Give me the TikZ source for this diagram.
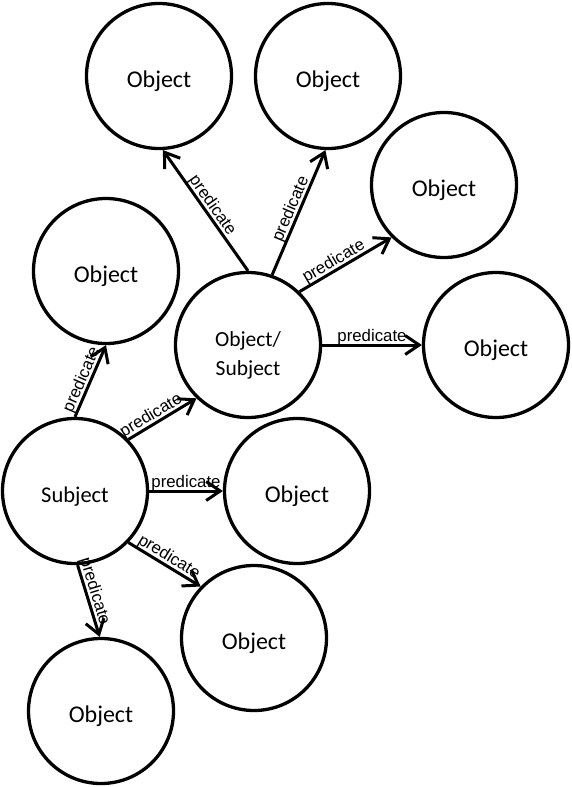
\documentclass[tikz,border=0pt]{standalone}
\usepackage{fontspec}
\setmainfont{Carlito}
\newfontfamily\labfont{Liberation Sans}
\usetikzlibrary{arrows.meta}
\begin{document}
\begin{tikzpicture}[x=1pt,y=-1pt,
  entbase/.style={circle,draw,line width=3.3pt,minimum size=145pt,inner sep=0pt,align=center},
  ent/.style={entbase,text height=22pt,text depth=0pt,font=\fontsize{24}{29}\selectfont},
  rel/.style={line width=3pt,-{Straight Barb[length=14pt,width=19pt]}},
  lab/.style={font=\labfont\fontsize{16.8}{18}\selectfont,sloped,above,inner sep=0.5pt,outer sep=0pt}]
\useasboundingbox (0,0) rectangle (571,787);
\node[ent] (tl) at (159,76) {Object};
\node[ent] (tr) at (328,76) {Object};
\node[ent] (ru) at (444,185) {Object};
\node[ent] (lo) at (106,271) {Object};
\node[entbase,font=\fontsize{21.5}{29}\selectfont] (os) at (248,345) {\rule{0pt}{36pt}Object/\\Subject};
\node[ent] (fr) at (496,345) {Object};
\node[ent,font=\fontsize{22.5}{29}\selectfont] (su) at (75,491) {Subject};
\node[ent] (mid) at (297,491) {Object};
\node[ent] (ol) at (254,638) {Object};
\node[ent] (ob) at (101,711) {Object};
\draw[rel] (os.90) -- node[lab,pos=0.5]{predicate} (tl.-87);
\draw[rel] (os.71) -- node[lab,pos=0.5]{predicate} (tr.-92);
\draw[rel] (os.46) -- node[lab,pos=0.42]{predicate} (ru.-135);
\draw[rel] (os.0) -- node[lab,pos=0.5]{predicate} (fr.180);
\draw[rel] (su.90) -- node[lab,pos=0.47]{predicate} (lo.-90);
\draw[rel] (su.44) -- node[lab,pos=0.4]{predicate} (os.-134);
\draw[rel] (su.0) -- node[lab,pos=0.5]{predicate} (mid.180);
\draw[rel] (su.-44) -- node[lab,pos=0.5]{predicate} (ol.136);
\draw[rel] (su.-88) -- node[lab,pos=0.4]{predicate} (ob.91);
\end{tikzpicture}
\end{document}
